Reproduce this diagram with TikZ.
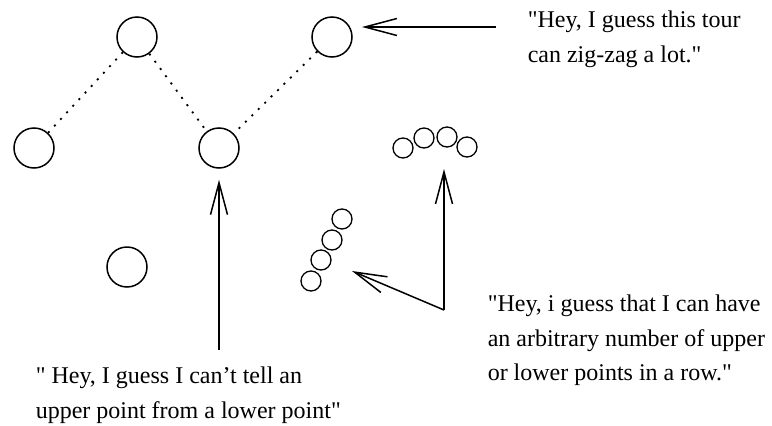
\documentclass[tikz,border=0pt]{standalone}
\usepackage{fontspec}
\setmainfont{Liberation Serif}
\usetikzlibrary{arrows.meta, positioning}

\begin{document}
\begin{tikzpicture}[x=1pt, y=-1pt, line width=1.5pt, >={Straight Barb[length=32pt, width=17pt]},
  big/.style={draw, circle, minimum size=40pt, inner sep=0pt},
  small/.style={draw, circle, minimum size=20pt, inner sep=0pt, line width=1.3pt},
  zig/.style={line width=1.8pt, dash pattern=on 2pt off 7pt},
  say/.style={align=left, inner sep=0pt, anchor=north west, font=\fontsize{24pt}{34.5pt}\selectfont}]
  \useasboundingbox (0,0) rectangle (772,426);

  \node (U1) [big] at (137,37) {};
  \node (U2) [big] at (332,37) {};
  \node (L1) [big] at (34,148) {};
  \node (L2) [big] at (219,148) {};
  \node (lone) [big] at (127,267) {};

  \draw[zig] (U1) -- (L1);
  \draw[zig] (U1) -- (L2);
  \draw[zig] (U2) -- (L2);

  \node (r1) [small] at (403,148) {};
  \node (r2) [small] at (424,138) {};
  \node (r3) [small] at (447,137) {};
  \node (r4) [small] at (467,147) {};

  \node (d1) [small] at (342,219) {};
  \node (d2) [small] at (332,240) {};
  \node (d3) [small] at (321,260) {};
  \node (d4) [small] at (311,281) {};

  \node (tour) [say] at (527,10.5) {\textquotedbl Hey, I guess this tour\\can zig-zag a lot.\textquotedbl};
  \node (row) [say] at (487,294.5) {\textquotedbl Hey, i guess that I can have\\an arbitrary number of upper\\or lower points in a row.\textquotedbl};
  \node (tell) [say] at (35,366.5) {\textquotedbl{} Hey, I guess I can't tell an\\upper point from a lower point\textquotedbl};

  \coordinate (tourfoot) at (496,27);
  \coordinate (tourtip) at (362,27);
  \coordinate (tellfoot) at (219,350);
  \coordinate (corner) at (444,310);
  \coordinate (rowtip) at (444,169);
  \coordinate (diagtip) at (352,271);

  \draw[->] (tourfoot) -- (tourtip);
  \draw[->, shorten >=11pt] (tellfoot) -- (L2);
  \draw[->] (corner) -- (rowtip);
  \draw[->] (corner) -- (diagtip);
\end{tikzpicture}
\end{document}
